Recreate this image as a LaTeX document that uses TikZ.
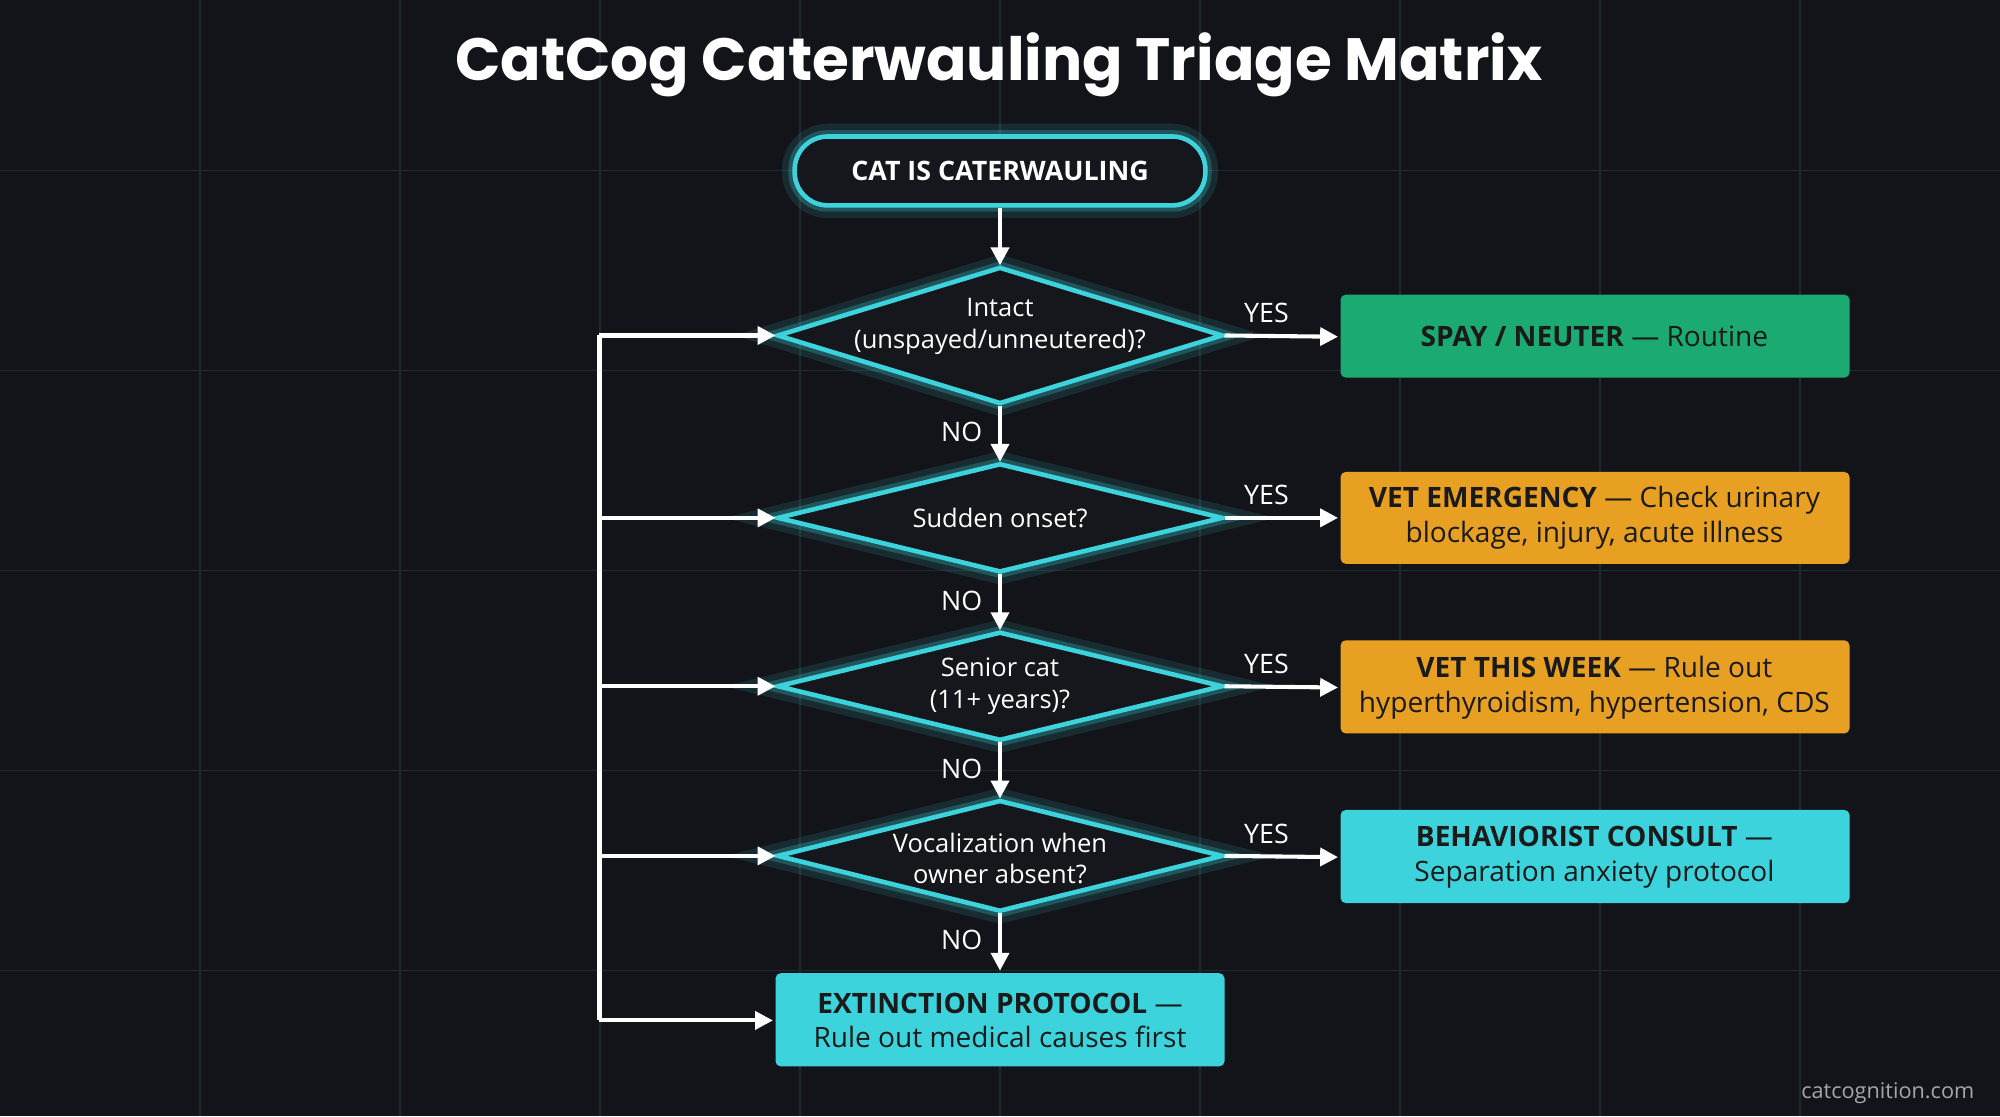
\documentclass[tikz,border=0pt]{standalone}
\usepackage{fontspec}
\setmainfont{Open Sans}
\newfontfamily\titlefont{Poppins}
\usetikzlibrary{arrows.meta}
\definecolor{bg}{HTML}{121419}
\definecolor{gridc}{HTML}{1E2A2E}
\definecolor{cy}{HTML}{3DD3DC}
\definecolor{gr}{HTML}{1BAA72}
\definecolor{org}{HTML}{E8A023}
\definecolor{dk}{HTML}{15171C}
\definecolor{ink}{HTML}{1A1A1A}
\tikzset{
  x=0.5pt,y=-0.5pt,
  glowline/.style={draw=cy,line width=1.8pt,
    preaction={draw=cy,line width=10pt,opacity=0.12},
    preaction={draw=cy,line width=5pt,opacity=0.25}},
  dia/.style={glowline,fill=dk},
  res/.style={anchor=center,rounded corners=2pt,text=ink,align=center,font=\fontsize{11}{13.5}\selectfont,inner sep=0pt},
  lab/.style={text=white,font=\fontsize{10.5}{12}\selectfont},
  arr/.style={draw=white,line width=1.6pt,-{Triangle[length=7pt,width=7pt]}},
}
\begin{document}
\begin{tikzpicture}
\fill[bg] (0,0) rectangle (1568,875);
\useasboundingbox (0,0) rectangle (1568,875);
\foreach \i in {1,...,9} \draw[gridc,line width=0.6pt] (\i*156.8,0) -- (\i*156.8,875);
\foreach \j in {1,...,5} \draw[gridc,line width=0.6pt] (0,\j*156.8-23) -- (1568,\j*156.8-23);
\node[text=white,font=\titlefont\bfseries\fontsize{23.4}{26}\selectfont] (title) at (783,51) {CatCog Caterwauling Triage Matrix};
% start
\draw[glowline,fill=dk,rounded corners=13pt] (623,107) rectangle (945,161);
\node[text=white,font=\bfseries\fontsize{10.5}{12}\selectfont] (start) at (784,134) {CAT IS CATERWAULING};
\coordinate (startb) at (784,163);
% diamonds
\foreach \n/\cy/\h in {d1/263/53,d2/406/42,d3/538/42,d4/671/43}{
  \draw[dia] (610,\cy) -- (784,\cy-\h) -- (958,\cy) -- (784,\cy+\h) -- cycle;
  \coordinate (\n l) at (608,\cy); \coordinate (\n r) at (960,\cy);
  \coordinate (\n t) at (784,\cy-\h-2); \coordinate (\n b) at (784,\cy+\h+2);
  \coordinate (\n x) at (470,\cy);
}
\node[lab,align=center,font=\fontsize{10}{12.5}\selectfont] at (784,256) {Intact\\(unspayed/unneutered)?};
\node[lab,font=\fontsize{10}{12.5}\selectfont] at (784,406) {Sudden onset?};
\node[lab,align=center,font=\fontsize{10}{12.5}\selectfont] at (784,538) {Senior cat\\(11+ years)?};
\node[lab,align=center,font=\fontsize{10}{12.5}\selectfont] at (784,673) {Vocalization when\\owner absent?};
% results
\fill[gr,rounded corners=2pt] (1051,231) rectangle (1450,296);
\node[res] (r1) at (1250,264) {\textbf{SPAY / NEUTER} — Routine};
\fill[org,rounded corners=2pt] (1051,370) rectangle (1450,442);
\node[res] (r2) at (1250,406) {\textbf{VET EMERGENCY} — Check urinary\\blockage, injury, acute illness};
\fill[org,rounded corners=2pt] (1051,502) rectangle (1450,575);
\node[res] (r3) at (1250,539) {\textbf{VET THIS WEEK} — Rule out\\hyperthyroidism, hypertension, CDS};
\fill[cy,rounded corners=2pt] (1051,635) rectangle (1450,708);
\node[res] (r4) at (1250,672) {\textbf{BEHAVIORIST CONSULT} —\\Separation anxiety protocol};
\fill[cy,rounded corners=2pt] (608,763) rectangle (960,836);
\node[res] (e) at (784,800) {\textbf{EXTINCTION PROTOCOL} —\\Rule out medical causes first};
\coordinate (el) at (606,800); \coordinate (et) at (784,761); \coordinate (ex) at (470,800);
\foreach \k in {1,2,3,4} \coordinate (r\k l) at (1049,{\k==1 ? 264 : (\k==2 ? 406 : (\k==3 ? 539 : 672))});
% connectors
\draw[arr] (startb) -- (d1t);
\draw[arr] (d1b) -- (d2t); \draw[arr] (d2b) -- (d3t); \draw[arr] (d3b) -- (d4t); \draw[arr] (d4b) -- (et);
\draw[arr] (d1r) -- (r1l) node[lab,pos=0.37,above=1pt] {YES};
\draw[arr] (d2r) -- (r2l) node[lab,pos=0.37,above=1pt] {YES};
\draw[arr] (d3r) -- (r3l) node[lab,pos=0.37,above=1pt] {YES};
\draw[arr] (d4r) -- (r4l) node[lab,pos=0.37,above=1pt] {YES};
\foreach \y/\n in {339/a,471/b,603/c,737/d} \node[lab] (no\n) at (754,\y) {NO};
\draw[white,line width=1.6pt] (d1x) -- (ex);
\draw[arr] (d1x) -- (d1l); \draw[arr] (d2x) -- (d2l); \draw[arr] (d3x) -- (d3l); \draw[arr] (d4x) -- (d4l); \draw[arr] (ex) -- (el);
\node[text=gray!70,font=\fontsize{8.5}{10}\selectfont] (wm) at (1480,857) {catcognition.com};
\end{tikzpicture}
\end{document}
